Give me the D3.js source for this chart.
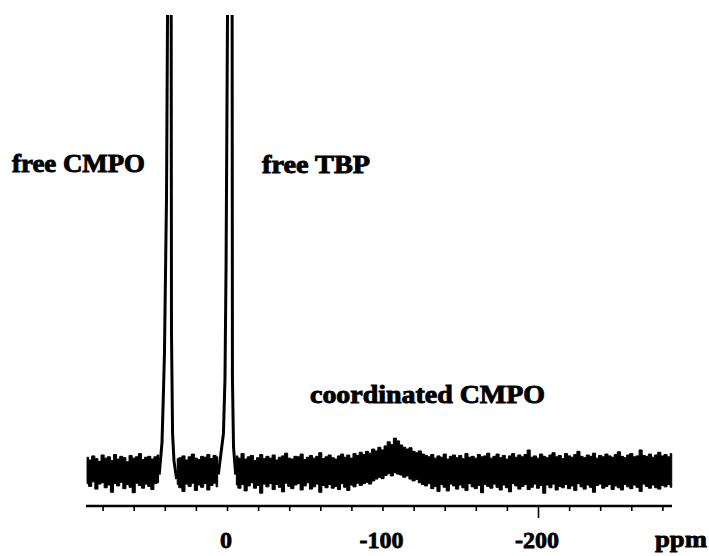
<!DOCTYPE html>
<html>
<head>
<meta charset="utf-8">
<script src="https://cdn.jsdelivr.net/npm/d3@7"></script>
<style>
  body { margin: 0; background: #fff; }
  text { font-family: "Liberation Serif", "Times New Roman", serif; font-weight: bold; fill: #000; }
</style>
</head>
<body>
<svg id="svg1" width="709" height="556"></svg>
<script>
// noise band envelope, one pair every 2 ppm starting at +90 ppm (intensity units, 0 = baseline)
var noiseStart = 90, noiseStep = 2;
var noiseHi = [
  2.8,2.2,3.1,2.5,1.9,3.3,2.6,2.9,2.1,3.4,
  2.4,3.0,2.7,1.8,3.2,2.6,2.9,3.6,2.3,2.8,
  3.0,2.4,2.9,3.3,2.0,2.0,2.0,2.0,2.0,2.5,
  2.7,3.1,2.2,2.9,3.5,2.6,2.3,3.0,2.8,3.4,
  2.5,3.2,2.9,2.0,2.0,2.0,2.0,2.0,3.1,2.6,
  3.6,2.4,2.9,3.2,2.1,2.7,3.4,2.5,3.0,2.6,
  3.3,2.2,2.8,3.1,3.7,2.6,2.4,3.0,2.9,3.5,
  2.3,2.8,3.2,2.6,3.0,3.8,2.5,2.9,3.3,2.7,
  2.4,3.1,3.5,2.8,3.3,2.6,3.6,3.2,3.9,3.4,
  4.1,3.7,4.6,4.2,5.0,4.4,5.3,6.2,5.6,7.0,
  6.4,5.5,5.0,4.6,4.9,4.1,3.8,4.2,3.5,3.2,
  2.9,3.4,2.6,3.1,2.8,3.5,2.4,3.0,3.3,2.7,
  3.2,2.5,3.6,2.8,3.0,2.6,3.4,2.9,3.1,3.7,
  2.6,3.0,3.5,2.7,3.2,2.4,3.1,3.6,2.8,3.3,
  2.9,3.4,4.4,2.8,3.1,2.6,3.5,3.0,2.7,3.3,
  3.8,2.9,3.2,2.5,3.6,3.1,2.8,3.4,4.1,3.0,
  2.7,3.3,3.0,3.7,2.6,3.2,2.9,3.5,3.1,2.8,
  3.4,4.0,3.0,2.7,3.3,3.6,2.9,3.1,4.4,3.2,
  3.0,3.5,2.8,3.3,3.9,3.1,3.4,2.9,3.6
];
var noiseLo = [
  -3.0,-3.6,-2.6,-4.2,-3.1,-2.8,-3.9,-3.3,-4.9,-3.0,
  -3.5,-2.7,-4.1,-3.2,-3.8,-5.0,-2.9,-3.4,-4.0,-3.1,
  -3.6,-4.3,-3.0,-2.8,-2.0,-2.0,-2.0,-2.0,-2.0,-3.2,
  -3.9,-4.7,-3.1,-3.6,-2.9,-4.5,-3.3,-3.8,-3.0,-4.4,
  -3.4,-2.9,-3.7,-2.0,-2.0,-2.0,-2.0,-2.0,-3.3,-4.0,
  -3.2,-4.6,-3.5,-2.8,-4.0,-3.4,-5.1,-3.1,-3.7,-3.0,
  -4.3,-3.2,-3.8,-4.8,-2.9,-3.6,-4.1,-3.3,-3.0,-4.4,
  -3.5,-2.8,-4.2,-3.7,-3.1,-4.9,-3.4,-3.9,-3.2,-4.0,
  -3.6,-4.3,-3.0,-3.8,-4.5,-3.3,-3.7,-2.9,-3.4,-3.0,
  -2.7,-3.1,-2.4,-2.0,-1.6,-1.9,-1.2,-0.8,-1.3,-0.6,
  -0.9,-1.1,-1.6,-1.3,-2.0,-2.4,-2.1,-2.8,-3.2,-3.5,
  -3.0,-4.1,-3.6,-4.7,-3.2,-3.8,-4.6,-3.1,-3.5,-4.2,
  -3.3,-3.9,-4.5,-3.0,-3.7,-4.1,-3.4,-5.0,-3.2,-3.6,
  -4.0,-3.1,-3.8,-4.4,-3.3,-3.9,-4.8,-3.0,-3.5,-4.2,
  -3.6,-3.2,-4.3,-3.8,-3.1,-4.0,-3.4,-5.1,-3.3,-3.9,
  -3.1,-4.4,-3.6,-3.9,-3.2,-4.1,-3.5,-4.5,-3.0,-3.7,
  -4.2,-3.3,-3.8,-4.9,-3.4,-3.1,-4.0,-3.6,-3.2,-4.3,
  -3.5,-3.9,-4.4,-3.2,-3.7,-4.1,-3.3,-3.8,-4.7,-3.1,
  -3.6,-4.0,-3.3,-3.9,-4.2,-3.4,-3.7,-3.2,-3.8
];

// sharp lines (ppm, intensity); values above 100 run off the top of the plot
var cmpoPpm = [43.6, 41.8, 40.8, 40.2, 38.9, 37.6, 36.0, 35.7, 35.0, 34.1, 32.4];
var cmpoInt = [-1, 6, 18, 26, 60, 140, 140, 30, 8, 2, -2];
var tbpPpm  = [5.6, 2.3, 1.3, 0.6, -1.0, -3.2, -3.5, -4.2, -5.6];
var tbpInt  = [-1, 8, 20, 45, 140, 140, 20, 5, -1];

var axisTicks  = d3.range(80, -281, -20);
var tickLabels = [0, -100, -200];
var majorTicks = [-200];

var peakLabels = ["free CMPO", "free TBP", "coordinated CMPO"];

var svg = d3.select("#svg1");

var x = d3.scaleLinear().domain([0, -200]).range([227, 538]);
var y = d3.scaleLinear().domain([0, 100]).range([470, 15]);

function inWindow(p) {
  return (p > 33.5 && p < 42.5) || (p > -5.5 && p < 4.2);
}

var band = noiseHi.map(function(h, i) {
  return { ppm: noiseStart - i * noiseStep, hi: h, lo: noiseLo[i] };
});

svg.append("clipPath").attr("id", "plotclip")
  .append("rect").attr("x", 0).attr("y", 15).attr("width", 709).attr("height", 500);

var plot = svg.append("g").attr("clip-path", "url(#plotclip)");

var area = d3.area()
  .defined(function(d) { return !inWindow(d.ppm); })
  .curve(d3.curveStep)
  .x(function(d) { return x(d.ppm); })
  .y0(function(d) { return y(d.lo); })
  .y1(function(d) { return y(d.hi); });

plot.append("path")
  .datum(band)
  .attr("fill", "#000")
  .attr("stroke", "#000")
  .attr("stroke-width", 1)
  .attr("d", area);

var line = d3.line()
  .x(function(d) { return x(d[0]); })
  .y(function(d) { return y(d[1]); });

[[cmpoPpm, cmpoInt], [tbpPpm, tbpInt]].forEach(function(pk) {
  var pts = pk[0].map(function(p, i) { return [p, pk[1][i]]; });
  plot.append("path")
    .datum(pts)
    .attr("fill", "none")
    .attr("stroke", "#000")
    .attr("stroke-width", 3)
    .attr("stroke-linejoin", "miter")
    .attr("stroke-miterlimit", 2)
    .attr("d", line);
});

// ppm axis
var gx = svg.append("g")
  .attr("transform", "translate(0,506)")
  .call(d3.axisBottom(x).tickValues(axisTicks).tickSize(5).tickFormat(""));
gx.select(".domain").attr("d", "M86,0H672").attr("stroke-width", 2.6);
gx.selectAll(".tick line")
  .attr("stroke-width", 1.6)
  .attr("y2", function(d) { return majorTicks.indexOf(d) >= 0 ? 12 : 5; });

svg.selectAll(".ticklab")
  .data(tickLabels)
  .enter().append("text")
  .attr("class", "ticklab")
  .attr("x", function(d) { return x(d) - 1; })
  .attr("y", 548)
  .attr("text-anchor", "middle")
  .attr("font-size", 24)
  .attr("stroke", "#000").attr("stroke-width", 0.8)
  .text(function(d) { return d; });

svg.append("text")
  .attr("x", 655).attr("y", 547)
  .attr("font-size", 24)
  .attr("textLength", 52).attr("lengthAdjust", "spacingAndGlyphs")
  .attr("stroke", "#000").attr("stroke-width", 0.8)
  .text("ppm");

// peak annotations
var labPos = [[12, 172, 133], [262, 173, 108], [310, 403, 235]];
svg.selectAll(".peaklab")
  .data(peakLabels)
  .enter().append("text")
  .attr("class", "peaklab")
  .attr("x", function(d, i) { return labPos[i][0]; })
  .attr("y", function(d, i) { return labPos[i][1]; })
  .attr("textLength", function(d, i) { return labPos[i][2]; })
  .attr("lengthAdjust", "spacingAndGlyphs")
  .attr("font-size", 25)
  .attr("stroke", "#000").attr("stroke-width", 0.9)
  .text(function(d) { return d; });
</script>
</body>
</html>
